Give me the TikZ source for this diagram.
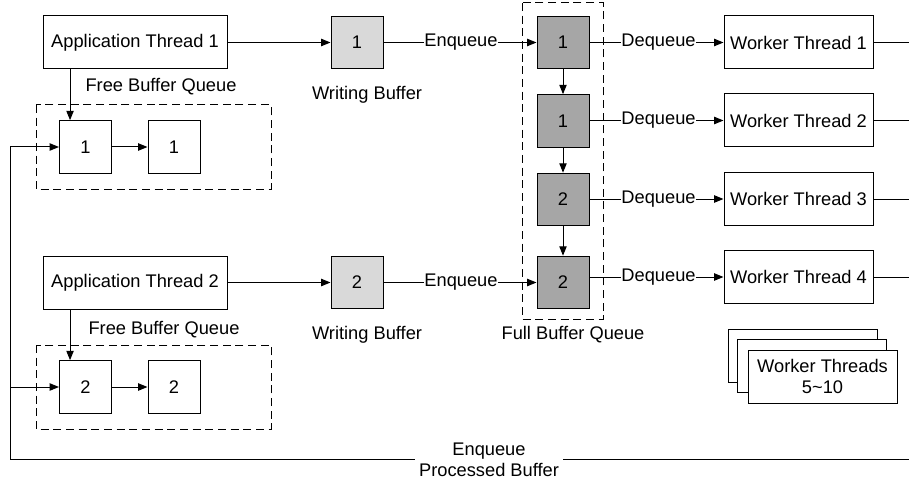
\documentclass[tikz,border=0pt]{standalone}
\usepackage{fontspec}
\setmainfont{Liberation Sans}
\usetikzlibrary{arrows.meta}
\definecolor{lightfill}{HTML}{D9D9D9}
\definecolor{darkfill}{HTML}{A6A6A6}
\begin{document}
\begin{tikzpicture}[x=0.75pt,y=-0.75pt,
  font=\fontsize{13.7}{15.75}\selectfont,
  line width=0.75pt,
  arr/.style={-{Triangle[length=7pt,width=5.5pt]}},
  appbox/.style={draw,inner sep=0pt,minimum width=138pt,minimum height=39.75pt},
  workbox/.style={draw,fill=white,inner sep=0pt,minimum width=111.75pt,minimum height=39.75pt,align=center},
  sqbox/.style={draw,inner sep=0pt,minimum width=39pt,minimum height=39.5pt},
  wbuf/.style={sqbox,fill=lightfill},
  fbuf/.style={sqbox,fill=darkfill},
  qframe/.style={draw,dash pattern=on 6pt off 3.5pt,line width=0.75pt},
  lbl/.style={inner sep=0pt},
  onlbl/.style={fill=white,inner sep=0pt}
]
\useasboundingbox (0,0) rectangle (909,481);

% queues frames
\draw[qframe] (36,105) rectangle (271,189);
\draw[qframe] (36,345) rectangle (271,429);
\draw[qframe] (522,3) rectangle (603,319);

% application threads
\node[appbox] (a1) at (135,42.5) {Application Thread 1};
\node[appbox] (a2) at (135,282.5) {Application Thread 2};

% free buffers
\node[sqbox] (f11) at (85.5,147) {1};
\node[sqbox] (f12) at (174,147) {1};
\node[sqbox] (f21) at (85.5,387) {2};
\node[sqbox] (f22) at (174,387) {2};

% writing buffers
\node[wbuf] (w1) at (357,42.5) {1};
\node[wbuf] (w2) at (357,282.5) {2};

% full buffers
\node[fbuf] (q1) at (563,42.5) {1};
\node[fbuf] (q2) at (563,121) {1};
\node[fbuf] (q3) at (563,199.5) {2};
\node[fbuf] (q4) at (563,282.5) {2};

% workers
\node[workbox] (k1) at (798.5,42.5) {Worker Thread 1};
\node[workbox] (k2) at (798.5,120.5) {Worker Thread 2};
\node[workbox] (k3) at (798.5,199) {Worker Thread 3};
\node[workbox] (k4) at (798.5,277) {Worker Thread 4};

% stacked worker threads
\node[workbox] (s3) at (802.5,355.5) {};
\node[workbox] (s2) at (812,365.5) {};
\node[workbox] (s1) at (822.5,376.5) {Worker Threads\\5\textasciitilde10};

% labels
\node[lbl] (lf1) at (161,87) {Free Buffer Queue};
\node[lbl] (lf2) at (164,330) {Free Buffer Queue};
\node[lbl] (lw1) at (367,95) {Writing Buffer};
\node[lbl] (lw2) at (367,335) {Writing Buffer};
\node[lbl] (lq) at (573,335) {Full Buffer Queue};

% app -> writing buffer
\draw[arr] (a1) -- (w1);
\draw[arr] (a2) -- (w2);
% app -> free buffer
\draw[arr] ([xshift=-11.6pt]f11.north |- a1.south) -- ([xshift=-11.6pt]f11.north);
\draw[arr] ([xshift=-11.6pt]f21.north |- a2.south) -- ([xshift=-11.6pt]f21.north);
\draw[arr] (f11) -- (f12);
\draw[arr] (f21) -- (f22);

% writing -> full
\draw[arr] (w1) -- (q1);
\node[onlbl] (e1) at (461,42.5) {Enqueue};
\draw[arr] (w2) -- (q4);
\node[onlbl] (e2) at (461,282.5) {Enqueue};

% full queue chain
\draw[arr] (q1) -- (q2);
\draw[arr] (q2) -- (q3);
\draw[arr] (q3) -- (q4);

% full -> workers
\draw[arr] (q1.east |- k1) -- (k1);
\node[onlbl] (d1) at (658.5,42.5) {Dequeue};
\draw[arr] (q2.east |- k2) -- (k2);
\node[onlbl] (d2) at (658.5,120.5) {Dequeue};
\draw[arr] (q3.east |- k3) -- (k3);
\node[onlbl] (d3) at (658.5,199) {Dequeue};
\draw[arr] (q4.east |- k4) -- (k4);
\node[onlbl] (d4) at (658.5,277) {Dequeue};

% workers -> right edge
\coordinate (r1) at (909,42.5);
\coordinate (r2) at (909,120.5);
\coordinate (r3) at (909,199);
\coordinate (r4) at (909,277);
\draw (k1) -- (r1);
\draw (k2) -- (r2);
\draw (k3) -- (r3);
\draw (k4) -- (r4);

% return path
\coordinate (br) at (909,459);
\coordinate (bl) at (10,459);
\draw[arr] (br) -- (bl) |- (f11);
\draw[arr] (bl |- f21) -- (f21);
\node[fill=white,align=center,inner xsep=3pt,inner ysep=1pt] (ret) at (489,460) {Enqueue\\Processed Buffer};
\end{tikzpicture}
\end{document}
